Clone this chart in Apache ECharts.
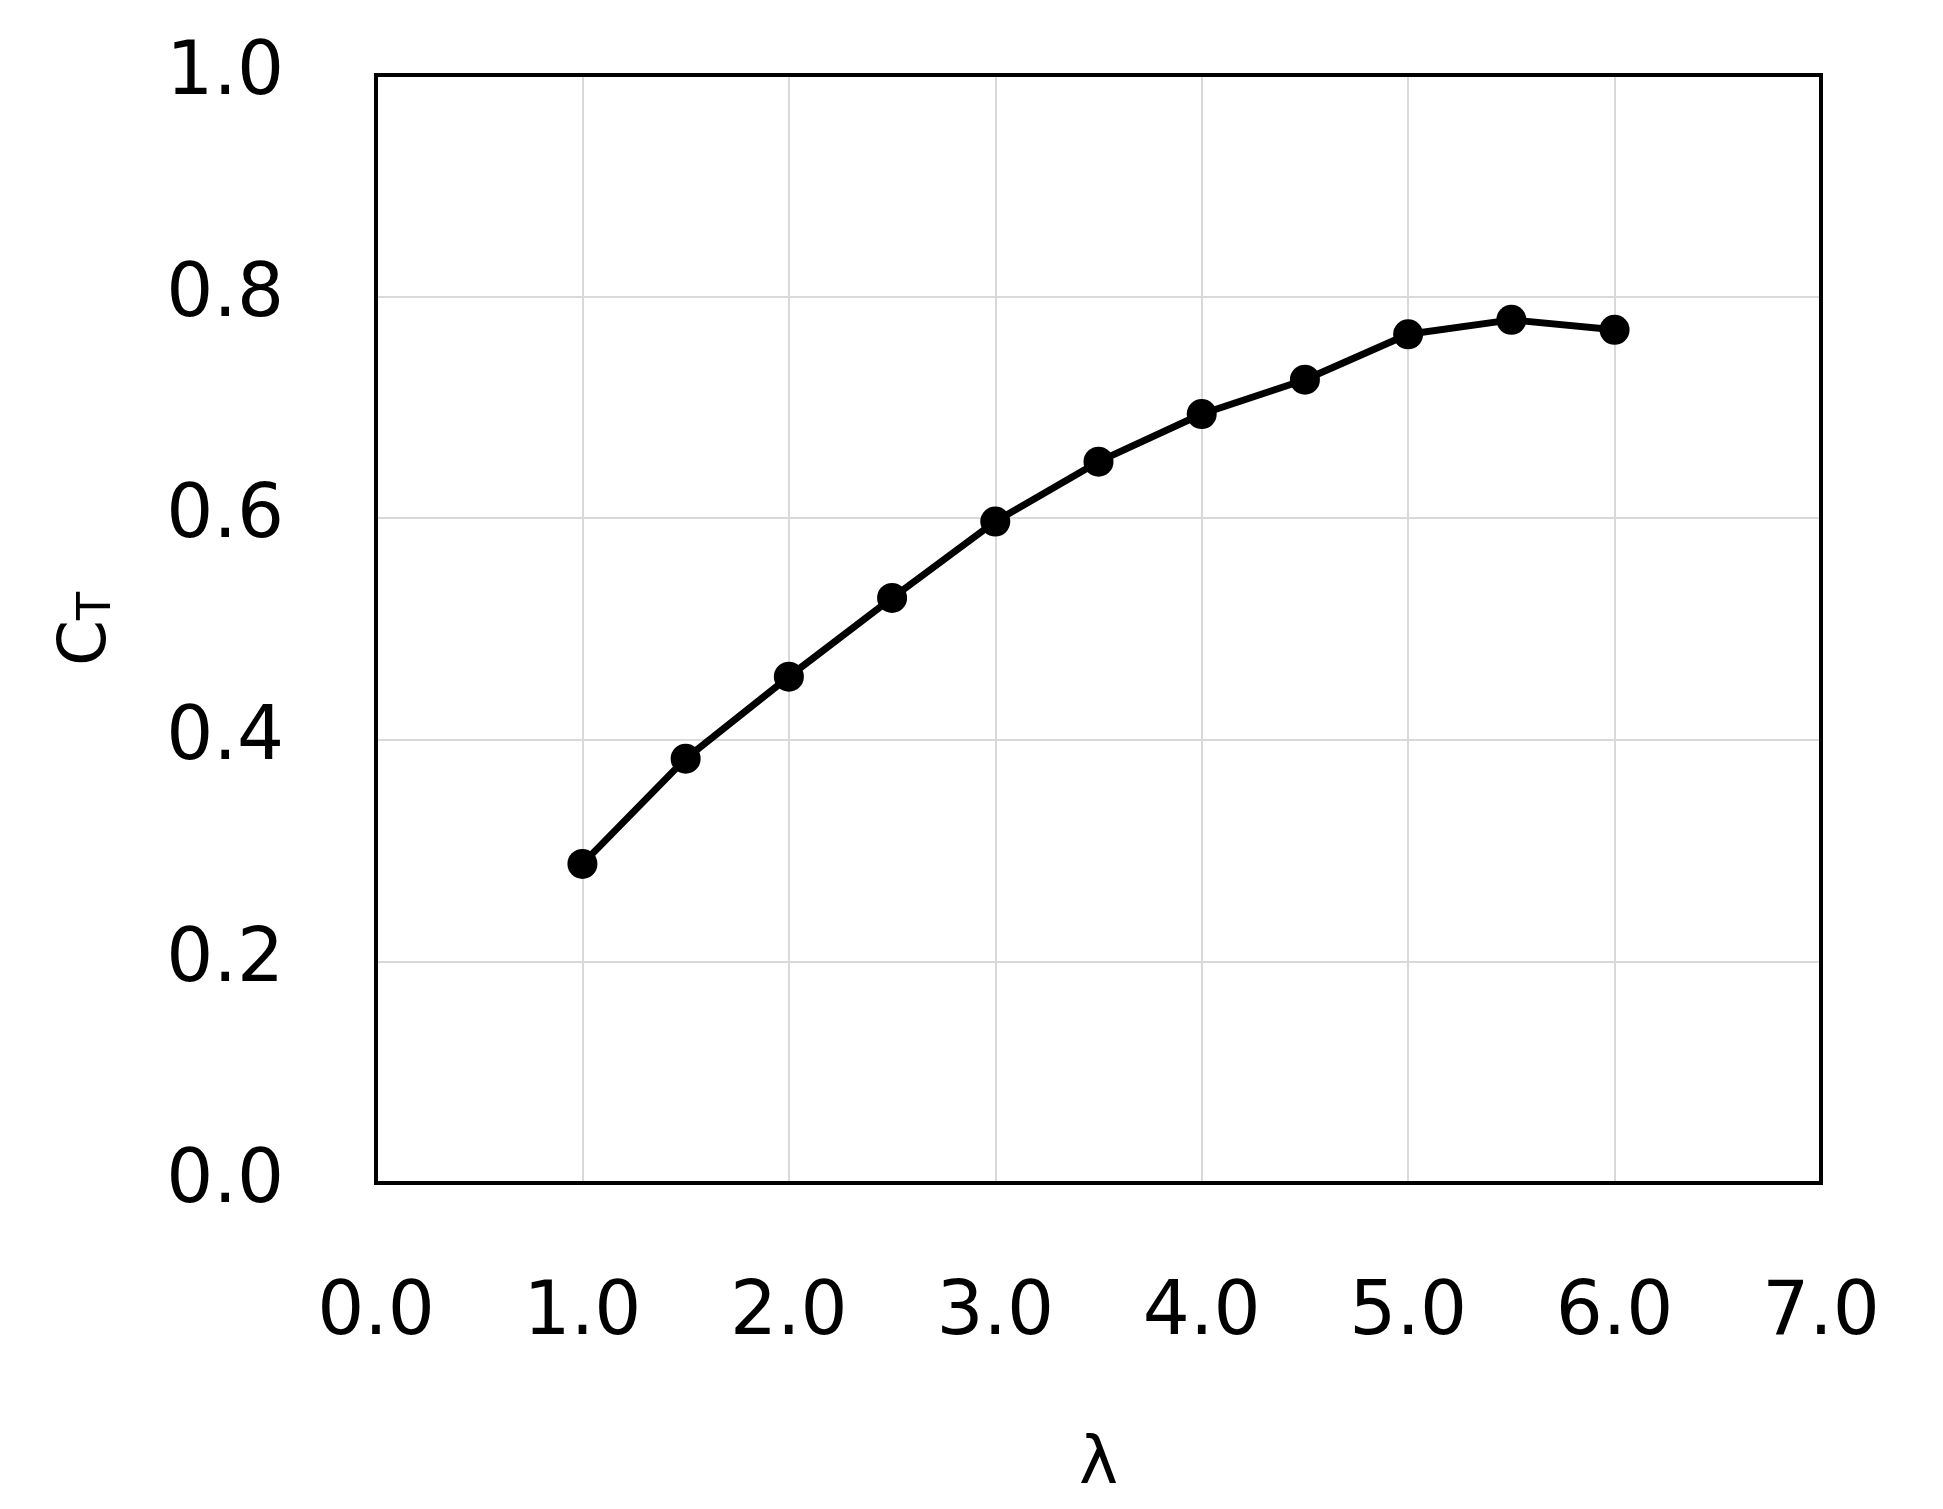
<!DOCTYPE html>
<html>
<head>
<meta charset="utf-8">
<script src="https://cdn.jsdelivr.net/npm/echarts@6/dist/echarts.min.js"></script>
<style>html,body{margin:0;background:#fff}#c{width:1943px;height:1509px}</style>
</head>
<body>
<div id="c"></div>
<script>
var lambda = [1.0, 1.5, 2.0, 2.5, 3.0, 3.5, 4.0, 4.5, 5.0, 5.5, 6.0];
var ct = [0.288, 0.383, 0.457, 0.528, 0.597, 0.651, 0.694, 0.725, 0.766, 0.779, 0.770];

var chart = echarts.init(document.getElementById('c'));
var font = 'DejaVu Sans';
chart.setOption({
    backgroundColor: '#fff',
    grid: {left: 376, right: 122, top: 75, bottom: 326, show: true, borderColor: '#000', borderWidth: 4, z: 10},
    xAxis: {
        type: 'value', min: 0, max: 7, interval: 1,
        name: 'λ', nameLocation: 'middle', nameGap: 250,
        nameTextStyle: {fontFamily: font, fontSize: 66, color: '#000'},
        axisLine: {lineStyle: {color: '#000', width: 3}},
        axisTick: {show: false},
        axisLabel: {margin: 95, fontFamily: font, fontSize: 74, color: '#000', formatter: function (v) { return v.toFixed(1); }},
        splitLine: {lineStyle: {color: '#d9d9d9', width: 2}}
    },
    yAxis: {
        type: 'value', min: 0, max: 1, interval: 0.2,
        name: '{c|C}{t|T}', nameLocation: 'middle', nameGap: 255,
        nameTextStyle: {rich: {
            c: {fontFamily: font, fontSize: 66, color: '#000'},
            t: {fontFamily: font, fontSize: 46, color: '#000', verticalAlign: 'bottom', padding: [20, 0, 0, 0]}
        }},
        axisLine: {show: true, lineStyle: {color: '#000', width: 3}},
        axisTick: {show: false},
        axisLabel: {margin: 92, fontFamily: font, fontSize: 74, color: '#000', formatter: function (v) { return v.toFixed(1); }},
        splitLine: {lineStyle: {color: '#d9d9d9', width: 2}}
    },
    series: [{
        type: 'line',
        data: lambda.map(function (x, i) { return [x, ct[i]]; }),
        symbol: 'circle', symbolSize: 30,
        lineStyle: {color: '#000', width: 7},
        itemStyle: {color: '#000'},
        animation: false
    }]
});
</script>
</body>
</html>
